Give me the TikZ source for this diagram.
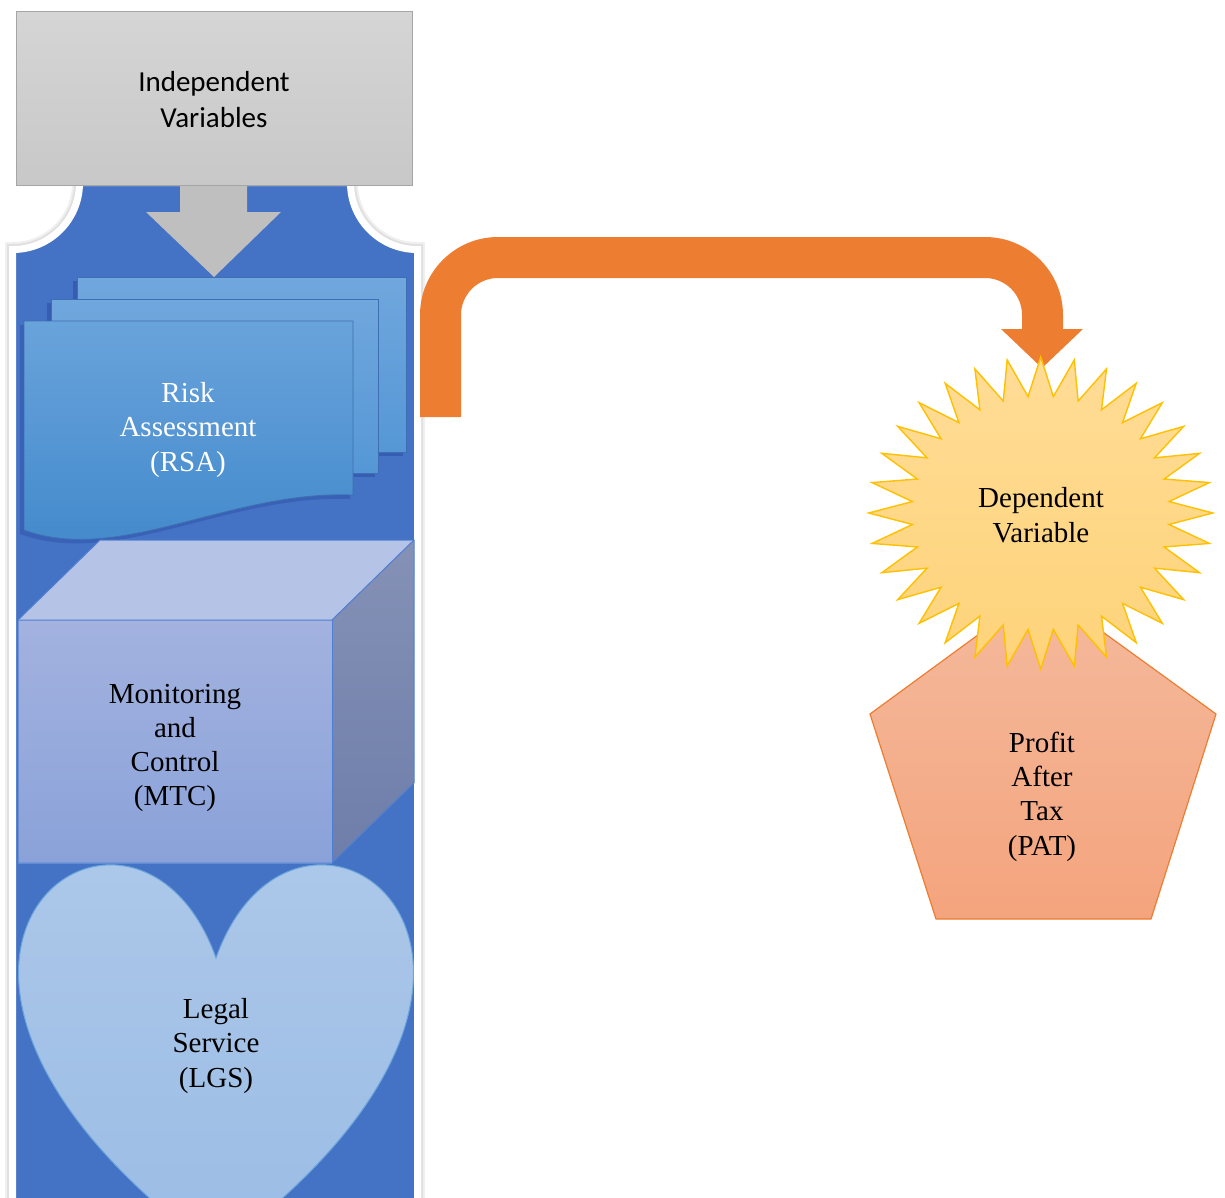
\documentclass[tikz,border=0pt]{standalone}
\usepackage{fontspec}
\setmainfont{Liberation Serif}
\newfontfamily\calib{Carlito}
\definecolor{colblue}{HTML}{4472C4}
\definecolor{grayedge}{HTML}{A5A5A5}
\definecolor{graytop}{HTML}{D5D5D5}
\definecolor{graybot}{HTML}{C8C8C8}
\definecolor{arrowgray}{HTML}{BFBFBF}
\definecolor{pagetop}{HTML}{70A7DD}
\definecolor{pagebot}{HTML}{5597D6}
\definecolor{fronttop}{HTML}{69A3DB}
\definecolor{frontbot}{HTML}{4088CB}
\definecolor{pageedge}{HTML}{3F6FB2}
\definecolor{cubetopc}{HTML}{B4C3E6}
\definecolor{cubefronttop}{HTML}{A3B2DF}
\definecolor{cubefrontbot}{HTML}{8AA2D9}
\definecolor{cubesidetop}{HTML}{8591B6}
\definecolor{cubesidebot}{HTML}{6E7EAA}
\definecolor{cubeedge}{HTML}{4F7FD0}
\definecolor{hearttop}{HTML}{B1CBEA}
\definecolor{heartbot}{HTML}{9BBCE5}
\definecolor{heartedge}{HTML}{6AA6DC}
\definecolor{orangec}{HTML}{ED7D31}
\definecolor{startop}{HTML}{FFDC96}
\definecolor{starbot}{HTML}{FED37A}
\definecolor{staredge}{HTML}{FFC000}
\definecolor{pentop}{HTML}{F4BA9D}
\definecolor{penbot}{HTML}{F4A47D}
\begin{document}
\begin{tikzpicture}[x=1pt,y=-1pt,
  lbl/.style={align=center, inner sep=0pt, font=\fontsize{29}{34.3}\selectfont},
  pagestyle/.style={top color=pagetop, bottom color=pagebot, draw=pageedge, line width=0.8},
  edgeline/.style={draw=cubeedge, line width=1},
  colpath/.style={line width=#1}]
\useasboundingbox (0,0) rectangle (1225,1197);
\clip (0,0) rectangle (1225,1197);

% blue column (white rim and soft gray shadow)
\foreach \w/\c in {16/black!6, 12/black!12, 8/white} {
  \path[draw=\c, line width=\w] (13,1300) -- (13,250) arc[start angle=90, end angle=0, radius=67]
    -- (350,183) arc[start angle=180, end angle=90, radius=67] -- (417,1300) -- cycle;
}
\path[fill=colblue] (13,1300) -- (13,250) arc[start angle=90, end angle=0, radius=67]
  -- (350,183) arc[start angle=180, end angle=90, radius=67] -- (417,1300) -- cycle;
\path[draw=white, line width=6] (13,1300) -- (13,250) arc[start angle=90, end angle=0, radius=67]
  -- (350,183) arc[start angle=180, end angle=90, radius=67] -- (417,1300);

% independent variables box
\node[draw=grayedge, line width=0.8, top color=graytop, bottom color=graybot,
      minimum width=396, minimum height=174, inner sep=0pt] (indep) at (214,98) {};
\node[align=center, inner sep=0pt, font=\calib\fontsize{29}{36}\selectfont] (indeptxt) at (214,100) {Independent\\Variables};

% gray block arrow
\coordinate (gtip) at (214,277);
\fill[arrowgray] (180,186) -- (247,186) -- (247,212) -- (281,212) -- (gtip) -- (146,212) -- (180,212) -- cycle;

% risk assessment multidocument
\fill[black!60!blue, opacity=0.18] (73,281) rectangle (403,456);
\draw[pagestyle] (77,277) rectangle (406,452);
\fill[black!60!blue, opacity=0.18] (47,303) rectangle (375,477);
\draw[pagestyle] (51,299) rectangle (378,473);
\fill[black!60!blue, opacity=0.15] (20,325) -- (350,325) -- (350,499) .. controls (227,494) and (117,569) .. (20,534) -- cycle;
\draw[pagestyle, top color=fronttop, bottom color=frontbot] (24,321) -- (353,321) -- (353,495)
  .. controls (230,490) and (120,565) .. (24,530) -- cycle;
\node[lbl, text=white] (rsa) at (188,430) {Risk\\Assessment\\(RSA)};

% cube
\fill[cubetopc] (18,620) -- (100,540) -- (414,540) -- (332,620) -- cycle;
\shade[top color=cubesidetop, bottom color=cubesidebot] (332,620) -- (414,540) -- (414,783) -- (332,863) -- cycle;
\shade[top color=cubefronttop, bottom color=cubefrontbot] (18,620) rectangle (332,863);
\draw[edgeline] (18,620) -- (100,540) -- (414,540) -- (414,783) -- (332,863) -- (18,863) -- cycle;
\draw[edgeline] (18,620) -- (332,620) -- (414,540);
\draw[edgeline] (332,620) -- (332,863);
\node[lbl] (mtc) at (175,748) {Monitoring\\and\\Control\\(MTC)};

% heart
\draw[draw=heartedge, line width=1, top color=hearttop, bottom color=heartbot]
  (216,958) .. controls (297.7,729.3) and (616.2,958) .. (216,1252)
  .. controls (-184.2,958) and (134.3,729.3) .. (216,958) -- cycle;
\node[lbl] (lgs) at (216,1046) {Legal\\Service\\(LGS)};

% pentagon
\draw[draw=orangec, line width=1.2, top color=pentop, bottom color=penbot]
  (1042,588) -- (1216,714) -- (1151,919) -- (936,919) -- (870,714) -- cycle;
\node[lbl] (pat) at (1042,796.5) {Profit\\After\\Tax\\(PAT)};

% orange bent arrow
\coordinate (ostart) at (440.5,417);
\coordinate (otip) at (1042,368);
\fill[orangec] (420,417) -- (420,315) arc[start angle=180, end angle=270, radius=78]
  -- (985,237) arc[start angle=270, end angle=360, radius=78]
  -- (1063,329) -- (1083,329) -- (otip) -- (1001,329) -- (1022,329) -- (1022,315)
  arc[start angle=0, end angle=-90, radius=37] -- (498,278)
  arc[start angle=270, end angle=180, radius=37] -- (461,417) -- cycle;

% star
\coordinate (sc) at (1040.7,513);
\draw[draw=staredge, line width=1.4, top color=startop, bottom color=starbot, line join=miter]
  (1040.7,357) \foreach \i in {1,...,63} { -- ({1040.7+(150.5+21.5*cos(\i*180))*sin(\i*5.625)}, {513-(136.5+19.5*cos(\i*180))*cos(\i*5.625)}) } -- cycle;
\node[lbl] (dep) at (1041,515) {Dependent\\Variable};
\end{tikzpicture}
\end{document}
